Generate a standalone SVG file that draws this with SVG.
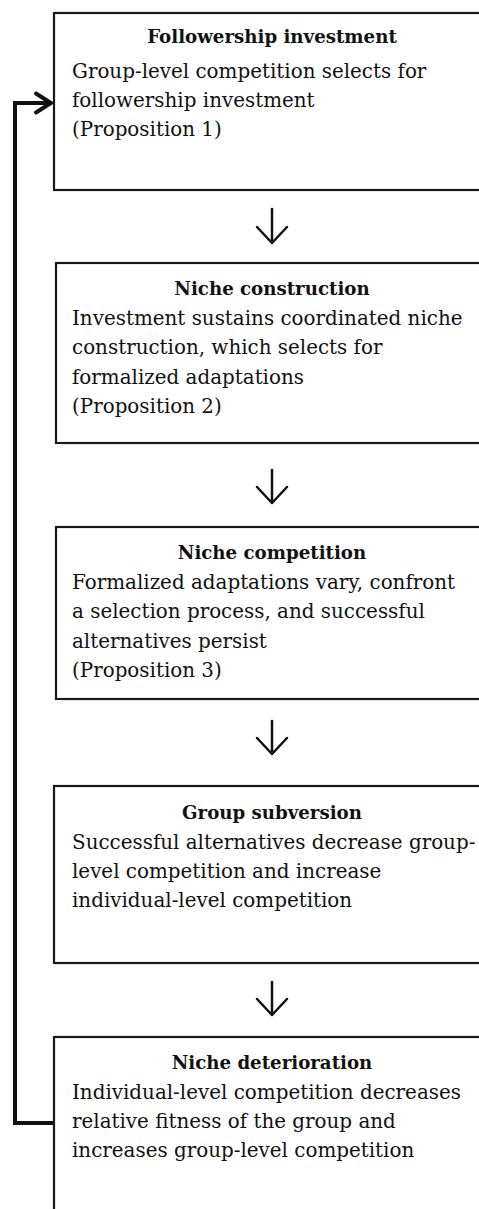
<svg xmlns="http://www.w3.org/2000/svg" width="479" height="1209" viewBox="0 0 479 1209">
<style>
.box{fill:#fff;stroke:#1a1a1a;stroke-width:2.2}
.title{font-family:"DejaVu Serif",serif;font-weight:bold;font-size:18.2px;fill:#111;text-anchor:middle}
.body{font-family:"DejaVu Serif",serif;font-size:19.9px;fill:#111}
.arr{fill:none;stroke:#111;stroke-width:2.5;stroke-linecap:round;stroke-linejoin:round}
.fb{fill:none;stroke:#111;stroke-width:4;stroke-linejoin:miter}
</style>
<rect width="479" height="1209" fill="#fff"/>
<g id="connectors">
<path class="arr" d="M272 209V243M257 227L272 243L287 227"/>
<path class="arr" d="M272 470V503M257 487L272 503L287 487"/>
<path class="arr" d="M272 721V754M257 738L272 754L287 738"/>
<path class="arr" d="M272 982V1015M257 999L272 1015L287 999"/>
<path class="fb" d="M55 1123H15V103H51"/>
<path class="fb" d="M36 93.5L51 103L36 112.5" stroke-linecap="round"/>
</g>
<g id="n1">
<rect class="box" x="54" y="13" width="440" height="177"/>
<text class="title" x="272" y="43">Followership investment</text>
<text class="body" x="72" y="78">Group-level competition selects for</text>
<text class="body" x="72" y="107">followership investment</text>
<text class="body" x="72" y="136">(Proposition 1)</text>
</g>
<g id="n2">
<rect class="box" x="56" y="263" width="440" height="180"/>
<text class="title" x="272" y="295">Niche construction</text>
<text class="body" x="72" y="325">Investment sustains coordinated niche</text>
<text class="body" x="72" y="354">construction, which selects for</text>
<text class="body" x="72" y="384">formalized adaptations</text>
<text class="body" x="72" y="413">(Proposition 2)</text>
</g>
<g id="n3">
<rect class="box" x="56" y="527" width="440" height="172"/>
<text class="title" x="272" y="559">Niche competition</text>
<text class="body" x="72" y="589">Formalized adaptations vary, confront</text>
<text class="body" x="72" y="618">a selection process, and successful</text>
<text class="body" x="72" y="648">alternatives persist</text>
<text class="body" x="72" y="677">(Proposition 3)</text>
</g>
<g id="n4">
<rect class="box" x="54" y="786" width="440" height="177"/>
<text class="title" x="272" y="819">Group subversion</text>
<text class="body" x="72" y="849">Successful alternatives decrease group-</text>
<text class="body" x="72" y="878">level competition and increase</text>
<text class="body" x="72" y="907">individual-level competition</text>
</g>
<g id="n5">
<rect class="box" x="54" y="1037" width="440" height="200"/>
<text class="title" x="272" y="1069">Niche deterioration</text>
<text class="body" x="72" y="1099">Individual-level competition decreases</text>
<text class="body" x="72" y="1128">relative fitness of the group and</text>
<text class="body" x="72" y="1157">increases group-level competition</text>
</g>
</svg>
